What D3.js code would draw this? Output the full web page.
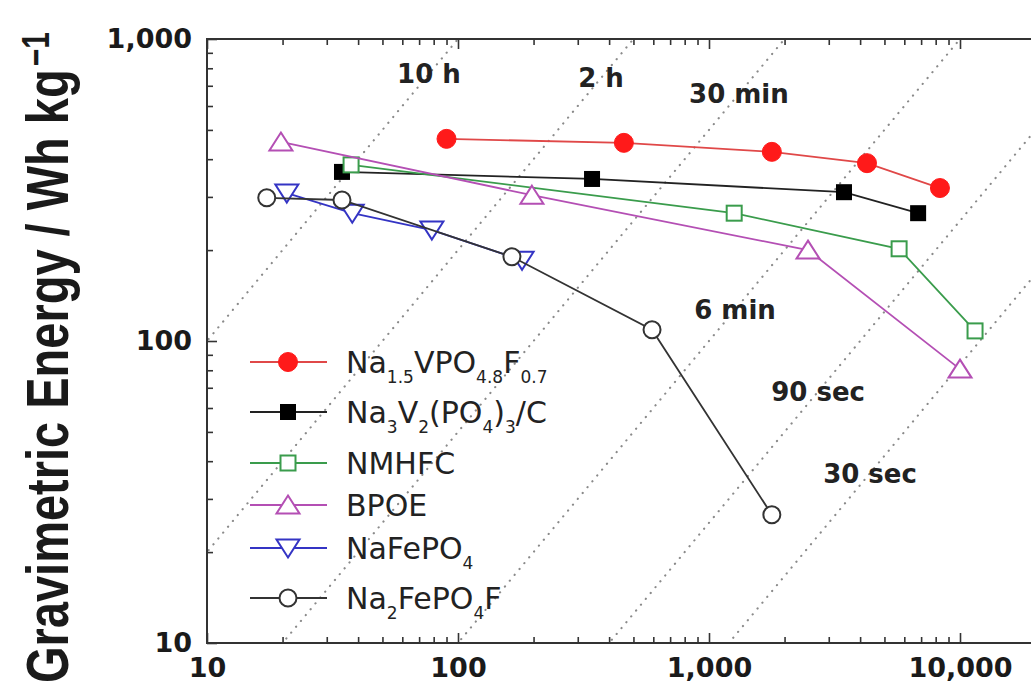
<!DOCTYPE html>
<html>
<head>
<meta charset="utf-8">
<script src="https://cdn.jsdelivr.net/npm/d3@7"></script>
<style>
  html, body { margin: 0; padding: 0; background: #fff; }
  svg { display: block; }
</style>
</head>
<body>
<div id="chart"></div>
<script>
// Ragone plot data: power density (W/kg) vs gravimetric energy (Wh/kg)
const seriesNames = ["Na_{1.5}VPO_{4.8}F_{0.7}", "Na_{3}V_{2}(PO_{4})_{3}/C", "NMHFC", "BPOE", "NaFePO_{4}", "Na_{2}FePO_{4}F"];

const nvpfPower = [90, 458, 1780, 4260, 8320];
const nvpfEnergy = [467, 453, 423, 388, 321];

const nvpPower = [34.5, 342, 3450, 6810];
const nvpEnergy = [363, 344, 311, 265];

const nmhfcPower = [37.5, 1260, 5720, 11480];
const nmhfcEnergy = [383, 265, 202, 108];

const bpoePower = [19.7, 197, 2480, 10000];
const bpoeEnergy = [456, 304, 200, 80.7];

const nfpPower = [20.8, 37.9, 78.7, 180];
const nfpEnergy = [309, 265, 233, 185];

const nfpfPower = [17.3, 34.5, 164, 593, 1780];
const nfpfEnergy = [298, 293, 190, 109, 26.6];

// constant discharge-time lines (hours)
const timeHours = [10, 2, 0.5, 0.1, 0.025, 0.008333];
const timeLabels = ["10 h", "2 h", "30 min", "6 min", "90 sec", "30 sec"];

const xMajor = [10, 100, 1000, 10000];
const yMajor = [10, 100, 1000];

// ---- layout / styles ----
const W = 1031, H = 696;
const plot = { left: 207, top: 39, bottom: 643 };
const decadeX = 251;

const series = [
  { name: seriesNames[0], power: nvpfPower, energy: nvpfEnergy, color: "#ff1a1a", line: "#e04848", marker: "circleFilled" },
  { name: seriesNames[1], power: nvpPower, energy: nvpEnergy, color: "#000000", line: "#222222", marker: "squareFilled" },
  { name: seriesNames[2], power: nmhfcPower, energy: nmhfcEnergy, color: "#3a9c4c", line: "#3a9c4c", marker: "squareOpen" },
  { name: seriesNames[3], power: bpoePower, energy: bpoeEnergy, color: "#b44fb4", line: "#b44fb4", marker: "triUp" },
  { name: seriesNames[4], power: nfpPower, energy: nfpEnergy, color: "#3434c4", line: "#3434c4", marker: "triDown" },
  { name: seriesNames[5], power: nfpfPower, energy: nfpfEnergy, color: "#333333", line: "#333333", marker: "circleOpen" }
];

// where along each time line its label sits (energy, Wh/kg)
const timeLabelAt = [766, 743, 658, 127, 68, 36.5];
const legendRows = [362, 412, 463, 505, 548, 598];

const svg = d3.select("#chart").append("svg")
  .attr("width", W).attr("height", H)
  .style("background", "#fff");

const x = d3.scaleLog().domain([10, 20000])
  .range([plot.left, plot.left + decadeX * Math.log10(2000)]);
const y = d3.scaleLog().domain([10, 1000]).range([plot.bottom, plot.top]);

const pw = x.range()[1] - plot.left, ph = plot.bottom - plot.top;

svg.append("clipPath").attr("id", "clip")
  .append("rect").attr("x", plot.left).attr("y", plot.top)
  .attr("width", pw).attr("height", ph);

// dotted iso-time lines
const timeG = svg.append("g").attr("clip-path", "url(#clip)");
const pDom = x.domain();
timeG.selectAll("line").data(timeHours).join("line")
  .attr("x1", x(1)).attr("y1", t => y(t * 1))
  .attr("x2", x(pDom[1] * 10)).attr("y2", t => y(t * pDom[1] * 10))
  .attr("stroke", "#8a8a8a")
  .attr("stroke-width", 2.2)
  .attr("stroke-linecap", "round")
  .attr("stroke-dasharray", "0.1,7.5");

svg.append("g").selectAll("text").data(timeLabels).join("text")
  .attr("x", (d, i) => x(timeLabelAt[i] / timeHours[i]))
  .attr("y", (d, i) => y(timeLabelAt[i]))
  .attr("dy", "0.36em")
  .attr("text-anchor", "middle")
  .style("font-family", "'DejaVu Sans', sans-serif")
  .style("font-weight", "bold")
  .style("font-size", "26px")
  .attr("fill", "#222")
  .text(d => d);

// axes (ticks point inward)
const minorX = x.ticks().filter(v => !xMajor.includes(v));
const minorY = y.ticks().filter(v => !yMajor.includes(v));
const fmt = d3.format(",");

function styleAxis(g) {
  g.select(".domain").remove();
  g.selectAll("line").attr("stroke", "#333").attr("stroke-width", 1.6);
  g.selectAll("text")
    .style("font-family", "'DejaVu Sans', sans-serif")
    .style("font-weight", "bold")
    .style("font-size", "27px")
    .attr("fill", "#1a1a1a");
}

svg.append("g").attr("transform", `translate(0,${plot.bottom})`)
  .call(d3.axisBottom(x).tickValues(xMajor).tickFormat(fmt).tickSizeInner(-10).tickSizeOuter(0).tickPadding(15))
  .call(styleAxis);
svg.append("g").attr("transform", `translate(0,${plot.bottom})`)
  .call(d3.axisBottom(x).tickValues(minorX).tickFormat("").tickSizeInner(-6).tickSizeOuter(0))
  .call(styleAxis);
svg.append("g").attr("transform", `translate(0,${plot.top})`)
  .call(d3.axisTop(x).tickValues(xMajor).tickFormat("").tickSizeInner(-10).tickSizeOuter(0))
  .call(styleAxis);
svg.append("g").attr("transform", `translate(0,${plot.top})`)
  .call(d3.axisTop(x).tickValues(minorX).tickFormat("").tickSizeInner(-6).tickSizeOuter(0))
  .call(styleAxis);
svg.append("g").attr("transform", `translate(${plot.left},0)`)
  .call(d3.axisLeft(y).tickValues(yMajor).tickFormat(fmt).tickSizeInner(-10).tickSizeOuter(0).tickPadding(15))
  .call(styleAxis);
svg.append("g").attr("transform", `translate(${plot.left},0)`)
  .call(d3.axisLeft(y).tickValues(minorY).tickFormat("").tickSizeInner(-6).tickSizeOuter(0))
  .call(styleAxis);

svg.append("rect")
  .attr("x", plot.left).attr("y", plot.top)
  .attr("width", pw).attr("height", ph)
  .attr("fill", "none").attr("stroke", "#333").attr("stroke-width", 2);

// y axis title (the picture is stretched sideways, so the glyphs are too)
const yTitle = svg.append("text")
  .attr("transform", "translate(68,683) rotate(-90) scale(1,1.28)")
  .style("font-family", "'Liberation Sans', Arial, sans-serif")
  .style("font-weight", "bold")
  .style("font-size", "47px")
  .attr("fill", "#1a1a1a");
yTitle.append("tspan").text("Gravimetric Energy / Wh kg");
yTitle.append("tspan").attr("dy", "-0.5em").attr("dx", "3").style("font-size", "30px").text("\u22121");

// markers
function drawMarker(g, type, color) {
  if (type === "circleFilled") {
    g.append("circle").attr("r", 9.5).attr("fill", color).attr("stroke", color).attr("stroke-width", 1);
  } else if (type === "circleOpen") {
    g.append("circle").attr("r", 8.5).attr("fill", "#fff").attr("stroke", color).attr("stroke-width", 2);
  } else if (type === "squareFilled") {
    g.append("rect").attr("x", -8).attr("y", -8).attr("width", 16).attr("height", 16).attr("fill", color);
  } else if (type === "squareOpen") {
    g.append("rect").attr("x", -7.5).attr("y", -7.5).attr("width", 15).attr("height", 15)
      .attr("fill", "#fff").attr("stroke", color).attr("stroke-width", 2);
  } else if (type === "triUp") {
    g.append("path").attr("d", "M0,-9.5L11.5,8.5L-11.5,8.5Z")
      .attr("fill", "#fff").attr("stroke", color).attr("stroke-width", 2);
  } else if (type === "triDown") {
    g.append("path").attr("d", "M0,9.5L11.5,-8.5L-11.5,-8.5Z")
      .attr("fill", "#fff").attr("stroke", color).attr("stroke-width", 2);
  }
}

const line = d3.line().x(d => x(d[0])).y(d => y(d[1]));

const sG = svg.append("g").selectAll("g").data(series).join("g");
sG.append("path")
  .attr("d", s => line(s.power.map((p, i) => [p, s.energy[i]])))
  .attr("fill", "none")
  .attr("stroke", s => s.line)
  .attr("stroke-width", 1.8);

sG.each(function (s) {
  const g = d3.select(this);
  s.power.forEach((p, i) => {
    const m = g.append("g").attr("transform", `translate(${x(p)},${y(s.energy[i])})`);
    drawMarker(m, s.marker, s.color);
  });
});

// legend
const legend = svg.append("g");
series.forEach((s, i) => {
  const ly = legendRows[i];
  const row = legend.append("g").attr("transform", `translate(0,${ly})`);
  row.append("line").attr("x1", 250).attr("x2", 327).attr("y1", 0).attr("y2", 0)
    .attr("stroke", s.line).attr("stroke-width", 1.8);
  const m = row.append("g").attr("transform", "translate(288,0)");
  drawMarker(m, s.marker, s.color);

  const txt = row.append("text").attr("x", 346).attr("y", 11)
    .style("font-family", "'DejaVu Sans', sans-serif")
    .style("font-size", "30px")
    .attr("fill", "#222");
  // split "A_{b}C" into normal / subscript parts
  const parts = s.name.split(/(_\{[^}]*\})/).filter(p => p.length);
  let sub = false;
  parts.forEach(p => {
    if (p.startsWith("_{")) {
      txt.append("tspan").attr("dy", sub ? 0 : 10).style("font-size", "17px").text(p.slice(2, -1));
      sub = true;
    } else {
      txt.append("tspan").attr("dy", sub ? -10 : 0).text(p);
      sub = false;
    }
  });
});
</script>
</body>
</html>
